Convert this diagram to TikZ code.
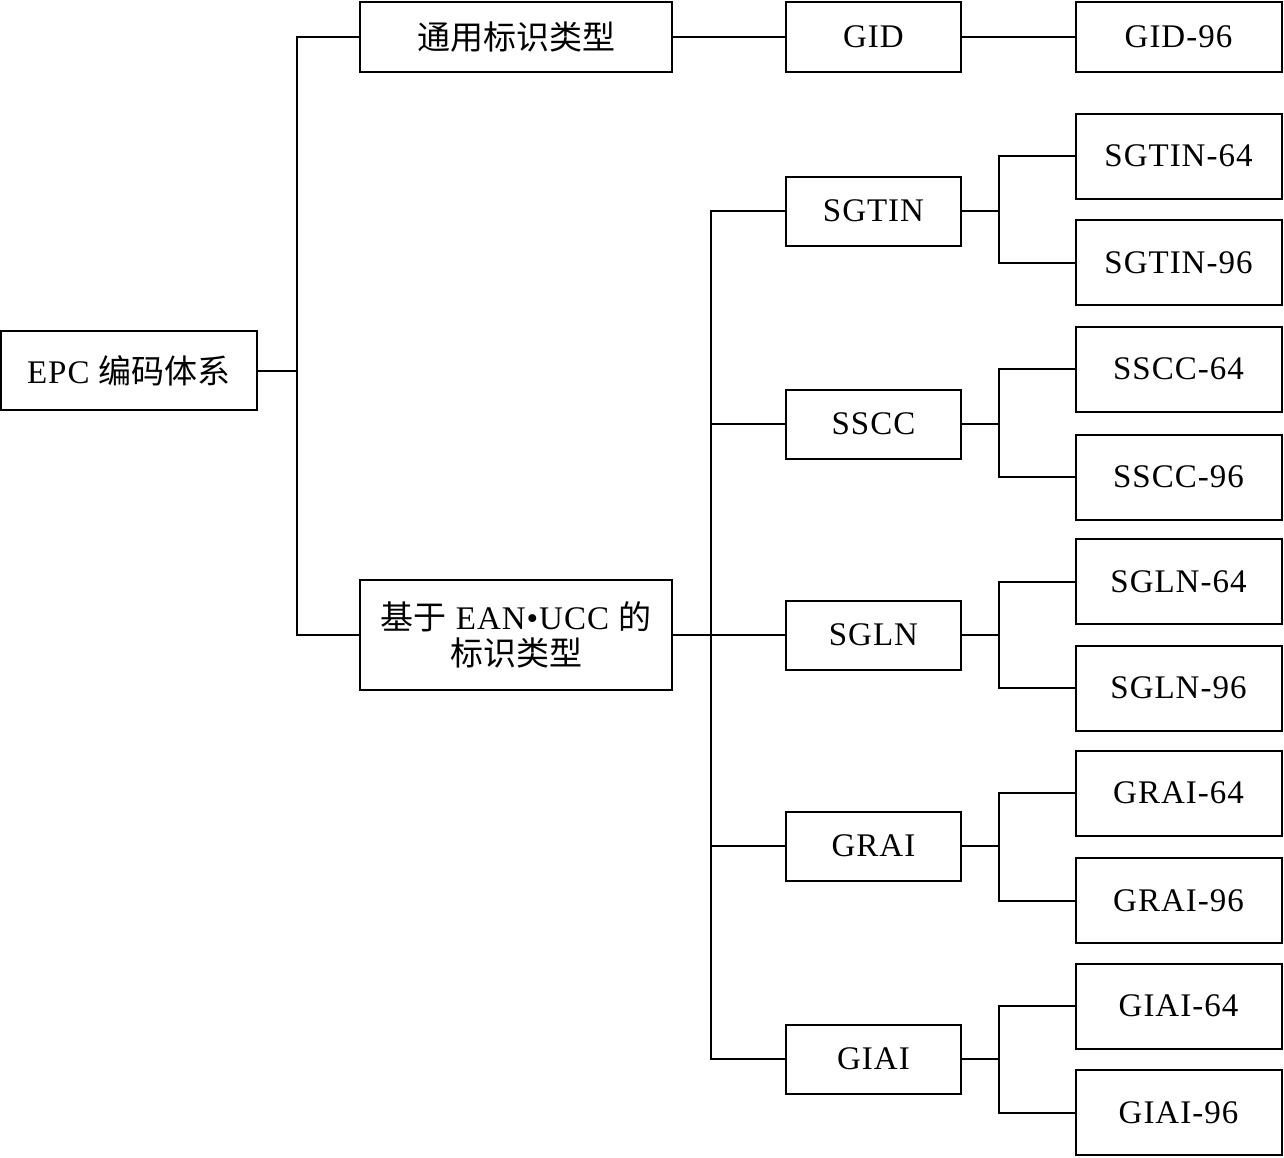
\documentclass[tikz,border=0pt]{standalone}
\usepackage{fontspec}
\usetikzlibrary{calc}
\setmainfont{Liberation Serif}[LetterSpace=3]
\newfontfamily\cjk{Noto Sans CJK SC}
\begin{document}
\begin{tikzpicture}[x=1pt,y=-1pt,
  bx/.style={draw,line width=2pt,inner sep=0pt,outer sep=0pt,align=center,
    font=\fontsize{33}{36}\selectfont},
  mid/.style={bx,minimum width=175pt,minimum height=69pt},
  leaf/.style={bx,minimum width=206pt,minimum height=85pt},
  ln/.style={line width=2pt}]
\useasboundingbox (0,0) rectangle (1284,1157);
\node[bx,minimum width=256pt,minimum height=79pt] (epc) at (129,370.5) {EPC {\cjk 编码体系}};
\node[bx,minimum width=312pt,minimum height=70pt] (t1) at (516,37) {\cjk 通用标识类型};
\node[bx,minimum width=312pt,minimum height=110pt] (t2) at (516,635) {{\cjk 基于} EAN•UCC {\cjk 的}\\{\cjk 标识类型}};
\node[mid,minimum height=70pt] (gid) at (873.5,37) {GID};
\node[leaf,minimum height=70pt] (gid96) at (1178.5,37) {GID-96};
\node[mid] (sgtin) at (873.5,211) {SGTIN};
\node[mid] (sscc) at (873.5,424) {SSCC};
\node[mid] (sgln) at (873.5,635) {SGLN};
\node[mid] (grai) at (873.5,846) {GRAI};
\node[mid] (giai) at (873.5,1059) {GIAI};
\node[leaf] (sgtin64) at (1178.5,156) {SGTIN-64};
\node[leaf] (sgtin96) at (1178.5,262.5) {SGTIN-96};
\node[leaf] (sscc64) at (1178.5,369) {SSCC-64};
\node[leaf] (sscc96) at (1178.5,477) {SSCC-96};
\node[leaf] (sgln64) at (1178.5,581.5) {SGLN-64};
\node[leaf] (sgln96) at (1178.5,688) {SGLN-96};
\node[leaf] (grai64) at (1178.5,793) {GRAI-64};
\node[leaf] (grai96) at (1178.5,900.5) {GRAI-96};
\node[leaf] (giai64) at (1178.5,1006) {GIAI-64};
\node[leaf] (giai96) at (1178.5,1112.5) {GIAI-96};
\coordinate (j1) at (297,370.5);
\coordinate (j2) at (711,635);
\draw[ln] (epc.east) -- (j1);
\draw[ln] (t1.west) -| (j1) |- (t2.west);
\draw[ln] (t1.east) -- (gid.west);
\draw[ln] (gid.east) -- (gid96.west);
\draw[ln] (t2.east) -- (sgln.west);
\draw[ln] (sgtin.west) -| (j2) |- (giai.west);
\draw[ln] (sscc.west) -- (sscc.west -| j2);
\draw[ln] (grai.west) -- (grai.west -| j2);
\foreach \m/\a/\b in {sgtin/sgtin64/sgtin96,sscc/sscc64/sscc96,sgln/sgln64/sgln96,grai/grai64/grai96,giai/giai64/giai96}{
  \coordinate (k\m) at ($(\m.east)+(38,0)$);
  \draw[ln] (\m.east) -- (k\m);
  \draw[ln] (\a.west) -| (k\m) |- (\b.west);
}
\end{tikzpicture}
\end{document}
